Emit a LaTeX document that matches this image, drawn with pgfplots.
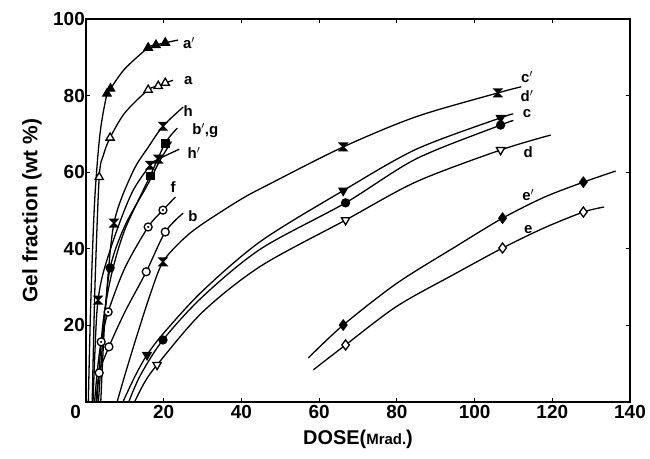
\documentclass[border=0pt]{standalone}
\usepackage{fontspec}
\setmainfont{Liberation Sans}
\usepackage{pgfplots}
\pgfplotsset{compat=1.18}

% hourglass and dotted-circle marks of the original figure
\pgfdeclareplotmark{hourglass}{%
  \pgfpathmoveto{\pgfqpoint{-\pgfplotmarksize}{\pgfplotmarksize}}%
  \pgfpathlineto{\pgfqpoint{\pgfplotmarksize}{\pgfplotmarksize}}%
  \pgfpathlineto{\pgfqpoint{-\pgfplotmarksize}{-\pgfplotmarksize}}%
  \pgfpathlineto{\pgfqpoint{\pgfplotmarksize}{-\pgfplotmarksize}}%
  \pgfpathclose
  \pgfusepathqfillstroke}
\pgfdeclareplotmark{odot}{%
  \pgfpathcircle{\pgfpointorigin}{\pgfplotmarksize}%
  \pgfusepathqfillstroke
  \begin{pgfscope}
  \pgfsetfillcolor{black}%
  \pgfpathcircle{\pgfpointorigin}{0.3\pgfplotmarksize}%
  \pgfusepathqfill
  \end{pgfscope}}

\begin{document}
\begin{tikzpicture}
\path[use as bounding box] (-86bp,-57bp) rectangle (564bp,402bp);
\begin{axis}[
  width=544bp, height=383bp, scale only axis,
  xmin=0, xmax=140, ymin=0, ymax=100,
  xtick={0,20,...,140},
  xticklabels={\makebox[0pt][r]{0\hspace*{5bp}},20,40,60,80,100,120,140},
  ytick={20,40,...,100},
  tick align=inside, major tick length=4bp,
  tick style={black, line width=1pt},
  axis line style={line width=1.6pt},
  /pgf/number format/assume math mode=true,
  ticklabel style={font=\bfseries\fontsize{19}{19}\selectfont},
  yticklabel style={inner sep=1bp},
  xticklabel style={inner sep=1bp, yshift=-2bp},
  xlabel={\bfseries\fontsize{20}{20}\selectfont DOSE({\fontsize{15}{15}\selectfont Mrad.})},
  ylabel={\bfseries\fontsize{21}{21}\selectfont Gel fraction (wt \%)},
  xlabel style={yshift=-7bp},
  ylabel style={yshift=7bp},
  every axis plot/.append style={black, line width=1.3pt, smooth},
  clip=false,
]
% a'
\addplot[mark=triangle*, mark size=4.8pt, mark indices={5,6,8,9,10}, mark options={solid}]
  coordinates {(0.6,0) (1.2,25) (2.2,52) (3.6,70) (5.4,80.5) (6.3,81.8) (10,87) (16,92.5) (18,93.2) (20.4,93.8) (23.7,94.5)};
% a
\addplot[mark=triangle*, mark size=4.8pt, mark indices={3,5,7,8,9}, mark options={fill=white}]
  coordinates {(1.6,0) (2.3,30) (3.4,58.7) (4.5,64.5) (6.2,69) (10,75.5) (16,81.5) (18.6,82.5) (20.4,83.3) (22.4,84)};
% h
\addplot[mark=hourglass, mark size=3.8pt, mark indices={3,6}, mark options={fill=black}]
  coordinates {(3.8,0) (5,24) (7.2,46.7) (12,60) (16,66.5) (19.8,72) (25,77)};
% b'
\addplot[mark=*, mark size=4pt, mark indices={3}]
  coordinates {(3.2,0) (4.6,20) (6.2,35) (10,46) (16,57) (19,63) (22,68)};
% g
\addplot[mark=square*, mark size=3.8pt, mark indices={5,6}]
  coordinates {(2.8,0) (4.3,20) (6.5,33) (10,45) (16.5,59) (20.4,67.6) (23.5,71.5)};
% h'
\addplot[mark=hourglass, mark size=3.8pt, mark indices={3,7,8}, mark options={fill=black}]
  coordinates {(1.8,0) (2.5,18) (3.1,26.6) (4.5,34) (8,45) (12,55) (16.5,61.8) (18.6,63.4) (24,66)};
% f
\addplot[mark=odot, mark size=4pt, mark indices={3,4,6,7}, mark options={fill=white}]
  coordinates {(2.2,0) (3,9) (3.9,15.7) (5.7,23.5) (10,35) (16,45.7) (19.8,50.1) (23,53.5)};
% b
\addplot[mark=*, mark size=4pt, mark indices={2,3,5,6}, mark options={fill=white}]
  coordinates {(2.6,0) (3.4,7.6) (5.9,14.4) (10,23.5) (15.5,34) (20.4,44.4) (25,49.3)};
% c'
\addplot[mark=hourglass, mark size=3.8pt, mark indices={5,10,12}, mark options={fill=black}]
  coordinates {(8,0) (10,7) (13,17) (16.5,28) (19.8,36.6) (25,42.5) (30,46.5) (40,53) (47.4,57) (66.2,66.6) (85,74.5) (106,80.7) (112,82.3)};
% d'
\addplot[mark=triangle*, mark size=4.8pt, mark indices={3,7,9}, mark options={rotate=180}]
  coordinates {(9.5,0) (12.5,6.5) (15.7,12.3) (20,18) (30,29) (45,42) (66.2,55.2) (85,66) (106.7,74.2) (110,75.2)};
% c
\addplot[mark=*, mark size=4pt, mark indices={3,6,8}]
  coordinates {(11,0) (14,7) (19.8,16.2) (30,27.5) (45,40) (66.8,52) (85,63.5) (106.7,72.3) (110,73.5)};
% d
\addplot[mark=triangle*, mark size=4.8pt, mark indices={3,6,8}, mark options={rotate=180, fill=white}]
  coordinates {(12.5,0) (15,5) (18.3,9.7) (30,23.5) (45,35.5) (66.8,47.5) (85,57.5) (106.7,65.8) (119.6,69.7)};
% e'
\addplot[mark=diamond*, mark size=5pt, mark indices={2,5,7}]
  coordinates {(57.2,11.5) (66.2,20.1) (80,31) (95,40.5) (107.2,48) (118,53.5) (128,57.4) (136.3,60.3)};
% e
\addplot[mark=diamond*, mark size=5pt, mark indices={2,5,7}, mark options={fill=white}]
  coordinates {(58.5,8.4) (66.8,14.9) (80,25) (95,33.5) (107.2,40.2) (118,45.5) (128,49.6) (133.3,50.9)};

\begin{scope}[every node/.style={font=\bfseries\fontsize{15}{15}\selectfont, inner sep=0pt}]
\node at (axis cs:26.5,93.7) {a$'$};
\node at (axis cs:26.3,83.8) {a};
\node at (axis cs:26.3,76) {h};
\node at (axis cs:30.7,70.8) {b$'$,g};
\node at (axis cs:27.8,65) {h$'$};
\node at (axis cs:22.4,56) {f};
\node at (axis cs:27.5,48.6) {b};
\node at (axis cs:113.5,84.8) {c$'$};
\node at (axis cs:113.5,79.9) {d$'$};
\node at (axis cs:113.5,75.2) {c};
\node at (axis cs:113.8,65.3) {d};
\node at (axis cs:113.8,54) {e$'$};
\node at (axis cs:113.8,44.9) {e};
\end{scope}
\end{axis}
\end{tikzpicture}
\end{document}
